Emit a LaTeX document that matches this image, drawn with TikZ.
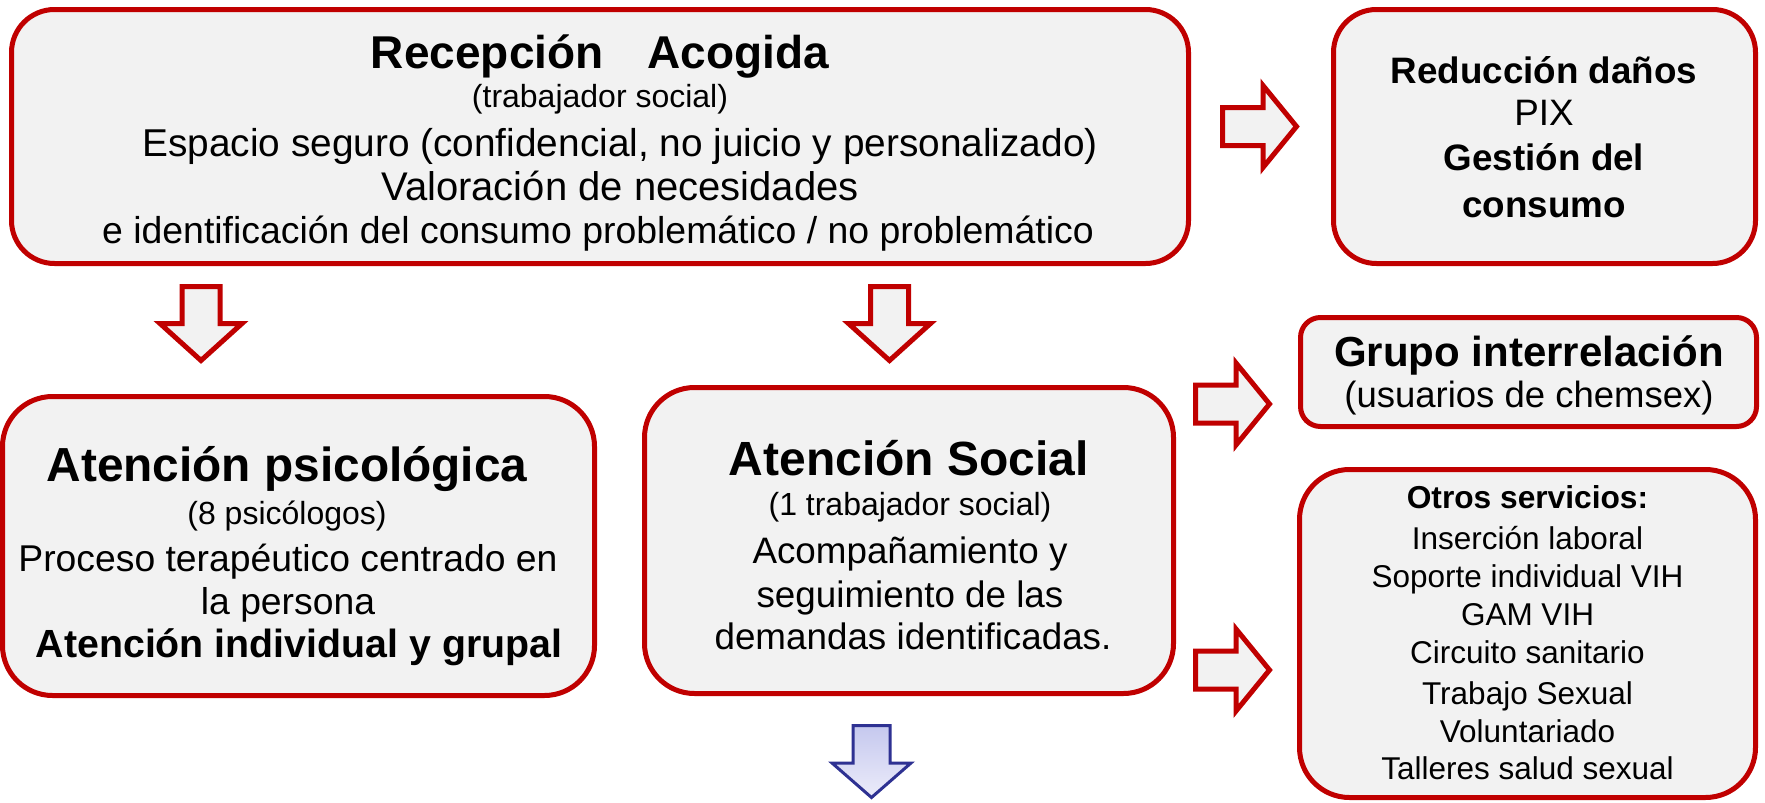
\documentclass[tikz,border=0pt]{standalone}
\usepackage{fontspec}
\setmainfont{Liberation Sans}
\newcommand\fz[1]{\fontsize{#1}{#1}\selectfont}
\definecolor{bred}{HTML}{C00000}
\definecolor{bfill}{HTML}{F2F2F2}
\definecolor{bnavy}{HTML}{2E3192}
\definecolor{blav}{HTML}{C5C8EE}
\definecolor{blav2}{HTML}{ECECFA}
\begin{document}
\begin{tikzpicture}[x=1pt,y=-1pt,
  box/.style={draw=bred, fill=bfill, line width=5pt, rounded corners=#1, inner sep=0pt, outer sep=0pt},
  box/.default=43pt,
  tx/.style={anchor=base, inner sep=0pt, outer sep=0pt, text=black},
  redarrow/.style={draw=bred, fill=bfill, line width=5pt, line join=miter},
  bluearrow/.style={draw=bnavy, line width=3pt, line join=miter, top color=blav, bottom color=blav2},
  rarrow/.pic={\draw[redarrow] (0,-19) -- (40.5,-19) -- (40.5,-41) -- (74,0) -- (40.5,41) -- (40.5,19) -- (0,19) -- cycle;},
  darrow/.pic={\draw[redarrow] (-19,0) -- (-19,37) -- (-41,37) -- (0,74) -- (41,37) -- (19,37) -- (19,0) -- cycle;},
  barrow/.pic={\draw[bluearrow] (-18.5,0) -- (-18.5,37.5) -- (-39.5,37.5) -- (0,72) -- (39.5,37.5) -- (18.5,37.5) -- (18.5,0) -- cycle;}
]
\fill[white] (0,0) rectangle (1765,803);
\useasboundingbox (0,0) rectangle (1765,803);

% boxes
\node[box=43pt, minimum width=1177pt, minimum height=254pt] (rec) at (600,136.5) {};
\node[box=43pt, minimum width=422pt, minimum height=254pt] (red) at (1544.5,136.5) {};
\node[box=20pt, minimum width=456pt, minimum height=109pt] (gru) at (1528.5,372) {};
\node[box=50pt, minimum width=456pt, minimum height=328pt] (otr) at (1527.5,633.5) {};
\node[box=50pt, minimum width=592pt, minimum height=299pt] (psi) at (298.5,546) {};
\node[box=50pt, minimum width=529pt, minimum height=306pt] (soc) at (909,540.5) {};

% arrows
\coordinate (a1) at (1222.5,126.5);
\coordinate (a2) at (1195.5,404);
\coordinate (a3) at (1195.5,670);
\coordinate (d1) at (201,286.5);
\coordinate (d2) at (889.5,286.5);
\coordinate (d3) at (871.5,725.5);
\pic (ar1) at (a1) {rarrow};
\pic (ar2) at (a2) {rarrow};
\pic (ar3) at (a3) {rarrow};
\pic (dr1) at (d1) {darrow};
\pic (dr2) at (d2) {darrow};
\pic (dr3) at (d3) {barrow};

% Recepcion
\node[tx, font=\bfseries\fz{46}] (rec1) at (600,68) {Recepción\hspace{44pt}Acogida};
\node[tx, font=\fz{32}] (rec2) at (600,107) {(trabajador social)};
\node[tx, font=\fz{38.8}] (rec3) at (620,156) {Espacio seguro (confidencial, no juicio y personalizado)};
\node[tx, font=\fz{40}] (rec4) at (620,200) {Valoración de necesidades};
\node[tx, font=\fz{37.4}] (rec5) at (598,243) {e identificación del consumo problemático / no problemático};

% Reduccion
\node[tx, font=\bfseries\fz{36.8}] (red1) at (1544,83) {Reducción daños};
\node[tx, font=\fz{36.8}] (red2) at (1544,125) {PIX};
\node[tx, font=\bfseries\fz{36.8}] (red3) at (1544,170) {Gestión del};
\node[tx, font=\bfseries\fz{36.8}] (red4) at (1544,217) {consumo};

% Grupo
\node[tx, font=\bfseries\fz{42}] (gru1) at (1529,366) {Grupo interrelación};
\node[tx, font=\fz{36.5}] (gru2) at (1529,407) {(usuarios de chemsex)};

% Otros
\node[tx, font=\bfseries\fz{31.7}] (otr1) at (1527.5,508) {Otros servicios:};
\node[tx, font=\fz{31.5}] (otr2) at (1527.5,549) {Inserción laboral};
\node[tx, font=\fz{31.5}] (otr3) at (1527.5,587) {Soporte individual VIH};
\node[tx, font=\fz{31.5}] (otr4) at (1527.5,625) {GAM VIH};
\node[tx, font=\fz{31.5}] (otr5) at (1527.5,663) {Circuito sanitario};
\node[tx, font=\fz{31.5}] (otr6) at (1527.5,704) {Trabajo Sexual};
\node[tx, font=\fz{31.5}] (otr7) at (1527.5,742) {Voluntariado};
\node[tx, font=\fz{31.5}] (otr8) at (1527.5,779) {Talleres salud sexual};

% Psicologica
\node[tx, font=\bfseries\fz{47.8}] (psi1) at (287,481) {Atención psicológica};
\node[tx, font=\fz{32}] (psi2) at (287,524) {(8 psicólogos)};
\node[tx, font=\fz{37.3}] (psi3) at (288,571) {Proceso terapéutico centrado en};
\node[tx, font=\fz{37.3}] (psi4) at (288,614) {la persona};
\node[tx, font=\bfseries\fz{39.3}] (psi5) at (299,657) {Atención individual y grupal};

% Social
\node[tx, font=\bfseries\fz{48}] (soc1) at (909,475) {Atención Social};
\node[tx, font=\fz{32}] (soc2) at (910,515) {(1 trabajador social)};
\node[tx, font=\fz{36.8}] (soc3) at (910,563) {Acompañamiento y};
\node[tx, font=\fz{36.8}] (soc4) at (910,607) {seguimiento de las};
\node[tx, font=\fz{36.8}] (soc5) at (913,649) {demandas identificadas.};
\end{tikzpicture}
\end{document}
